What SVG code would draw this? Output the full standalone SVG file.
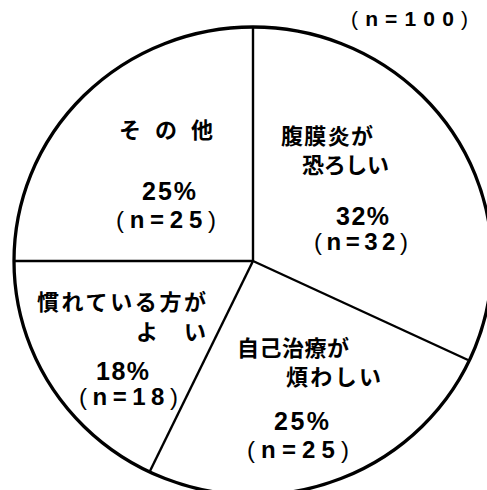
<svg xmlns="http://www.w3.org/2000/svg" width="487" height="490" viewBox="0 0 487 490">
<style>
.t{fill:#000;text-anchor:middle}
.j{font-family:"Noto Sans CJK JP","Noto Sans",sans-serif;font-weight:700;font-size:22px}
.d{font-family:"Liberation Sans",Arial,sans-serif;font-weight:700;font-size:25px}
.p{font-family:"Liberation Sans",Arial,sans-serif;font-weight:700;font-size:24px}
.b{font-weight:400}
</style>
<rect width="487" height="490" fill="#fff"/>
<g id="pie">
<ellipse cx="253" cy="261" rx="239" ry="234" fill="none" stroke="#000" stroke-width="3.3"/>
</g>
<g id="connectors" stroke="#000" stroke-width="2.4" fill="none">
<line x1="253" y1="27" x2="253" y2="261"/>
<line x1="14" y1="261" x2="253" y2="261"/>
<line x1="253" y1="261" x2="468" y2="360"/>
<line x1="253" y1="261" x2="150" y2="471"/>
</g>
<g id="total">
<text class="t p" style="font-size:21px" x="409.5" y="26" textLength="117" lengthAdjust="spacing"><tspan class="b">(</tspan>n=100<tspan class="b">)</tspan></text>
</g>
<g id="other">
<text class="t j" x="166" y="138" textLength="94" lengthAdjust="spacing">その他</text>
<text class="t d" x="169" y="200" textLength="54" lengthAdjust="spacing">25%</text>
<text class="t p" x="166" y="228" textLength="100" lengthAdjust="spacing"><tspan class="b">(</tspan>n=25<tspan class="b">)</tspan></text>
</g>
<g id="peritonitis">
<text class="t j" x="327" y="144" textLength="92" lengthAdjust="spacing">腹膜炎が</text>
<text class="t j" x="345.5" y="173" textLength="87" lengthAdjust="spacing">恐ろしい</text>
<text class="t d" x="362.5" y="225" textLength="53" lengthAdjust="spacing">32%</text>
<text class="t p" x="361" y="250" textLength="94" lengthAdjust="spacing"><tspan class="b">(</tspan>n=32<tspan class="b">)</tspan></text>
</g>
<g id="familiar">
<text class="t j" x="121.5" y="310" textLength="169" lengthAdjust="spacing">慣れている方が</text>
<text class="t j" x="171" y="340" textLength="70" lengthAdjust="spacing">よ　い</text>
<text class="t d" x="122.5" y="380" textLength="53" lengthAdjust="spacing">18%</text>
<text class="t p" x="128.5" y="405" textLength="99" lengthAdjust="spacing"><tspan class="b">(</tspan>n=18<tspan class="b">)</tspan></text>
</g>
<g id="selfcare">
<text class="t j" x="293" y="356" textLength="112" lengthAdjust="spacing">自己治療が</text>
<text class="t j" x="333.5" y="385" textLength="95" lengthAdjust="spacing">煩わしい</text>
<text class="t d" x="301.5" y="430" textLength="55" lengthAdjust="spacing">25%</text>
<text class="t p" x="298" y="458" textLength="102" lengthAdjust="spacing"><tspan class="b">(</tspan>n=25<tspan class="b">)</tspan></text>
</g>
</svg>
